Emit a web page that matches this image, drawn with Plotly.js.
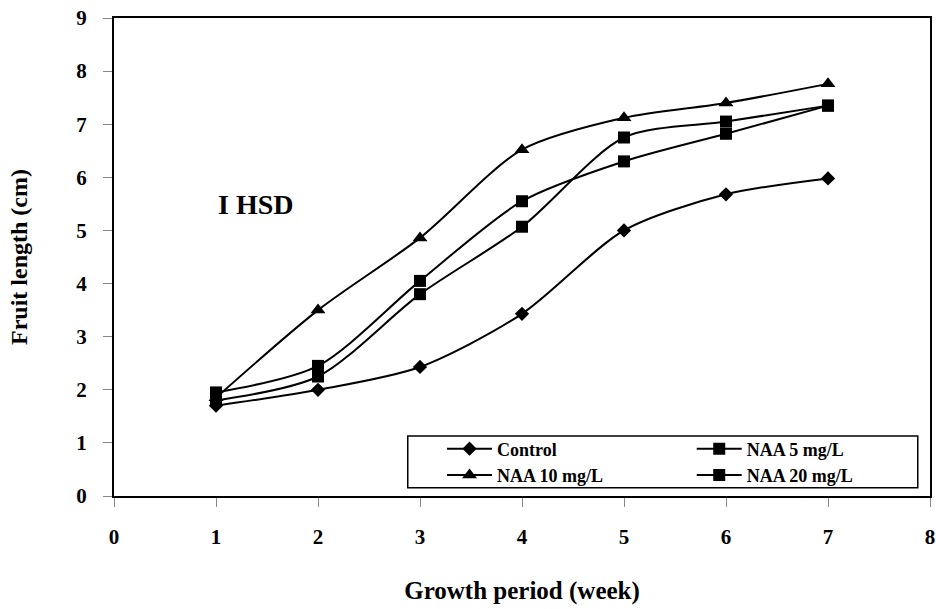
<!DOCTYPE html>
<html><head><meta charset="utf-8">
<script src="https://cdn.plot.ly/plotly-3.0.1.min.js"></script>
<style>body{margin:0;background:#fff}#chart{width:936px;height:609px}</style>
</head><body><div id="chart"></div>
<script>
const weeks = [1, 2, 3, 4, 5, 6, 7];
const control = [1.70, 2.00, 2.43, 3.43, 5.00, 5.68, 5.98];
const naa5 = [1.95, 2.45, 4.05, 5.55, 6.30, 6.82, 7.35];
const naa10 = [1.85, 3.50, 4.86, 6.52, 7.12, 7.40, 7.76];
const naa20 = [1.80, 2.25, 3.80, 5.07, 6.75, 7.05, 7.35];
const seriesNames = ["Control", "NAA 5 mg/L", "NAA 10 mg/L", "NAA 20 mg/L"];
const xTicks = [0, 1, 2, 3, 4, 5, 6, 7, 8];
const yTicks = [0, 1, 2, 3, 4, 5, 6, 7, 8, 9];

const font = "Liberation Serif, Times New Roman, serif";
function tr(y, name, sym, size, leg) {
  return {x: weeks, y: y, name: name, type: 'scatter', mode: 'lines+markers', legend: leg,
    line: {color: '#000', width: 2, shape: 'spline', smoothing: 0.8},
    marker: {symbol: sym, size: size, color: '#000'}};
}
const data = [
  tr(control, seriesNames[0], 'diamond', 11, 'legend'),
  tr(naa10, seriesNames[2], 'triangle-up', 13, 'legend'),
  tr(naa5, seriesNames[1], 'square', 12, 'legend2'),
  tr(naa20, seriesNames[3], 'square', 12, 'legend2')
];
const legFont = {family: font, size: 18, color: '#000', weight: 'bold'};
const layout = {
  width: 936, height: 609,
  margin: {l: 114, r: 6, t: 18, b: 113},
  paper_bgcolor: '#fff', plot_bgcolor: '#fff',
  font: {family: font, color: '#000'},
  showlegend: true,
  legend: {orientation: 'v', x: 0.402, y: 0.137, xanchor: 'left', yanchor: 'top',
    borderwidth: 0, bgcolor: 'rgba(0,0,0,0)', font: legFont, tracegroupgap: 0, itemwidth: 45},
  legend2: {orientation: 'v', x: 0.708, y: 0.137, xanchor: 'left', yanchor: 'top',
    borderwidth: 0, bgcolor: 'rgba(0,0,0,0)', font: legFont, tracegroupgap: 0, itemwidth: 45},
  shapes: [{type: 'rect', xref: 'paper', yref: 'paper', x0: 0.360, x1: 0.985, y0: 0.017, y1: 0.1255,
    line: {color: '#000', width: 1.5}, fillcolor: 'rgba(0,0,0,0)', layer: 'below'}],
  xaxis: {range: [0, 8], tickvals: xTicks, ticktext: xTicks.map(String),
    showgrid: false, zeroline: false, showline: true, linecolor: '#000', linewidth: 2,
    mirror: true, ticks: 'outside', ticklen: 9, tickcolor: '#888', tickwidth: 1,
    ticklabelstandoff: 12,
    tickfont: {family: font, size: 21, weight: 'bold'},
    title: {text: '<b>Growth period (week)</b>', font: {family: font, size: 25}, standoff: 33}},
  yaxis: {range: [0, 9], tickvals: yTicks, ticktext: yTicks.map(String),
    showgrid: false, zeroline: false, showline: true, linecolor: '#000', linewidth: 2,
    mirror: true, ticks: 'outside', ticklen: 9, tickcolor: '#888', tickwidth: 1,
    ticklabelstandoff: 12,
    tickfont: {family: font, size: 21, weight: 'bold'},
    title: {text: '<b>Fruit length (cm)</b>', font: {family: font, size: 24}, standoff: 42}},
  annotations: [{x: 1.39, y: 5.48, xref: 'x', yref: 'y', text: '<b>I HSD</b>', showarrow: false,
    font: {family: font, size: 28, color: '#000'}}]
};
Plotly.newPlot('chart', data, layout, {displayModeBar: false});
</script></body></html>
